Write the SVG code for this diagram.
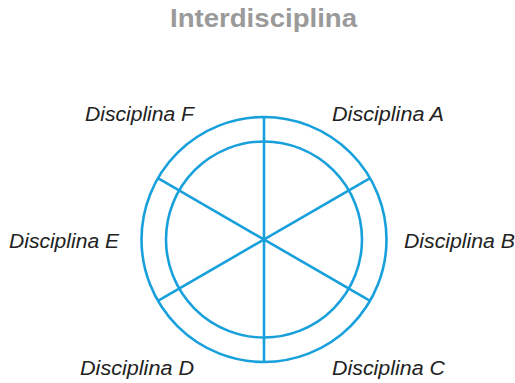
<svg xmlns="http://www.w3.org/2000/svg" width="515" height="383" viewBox="0 0 515 383">
<style>
.c{fill:none;stroke:#17a0dc;stroke-width:2.6}
.l{font-family:"Liberation Sans",Arial,sans-serif;font-style:italic;font-size:20px;fill:#222}
.t{font-family:"Liberation Sans",Arial,sans-serif;font-weight:bold;font-size:25px;fill:#9a9a9a}
</style>
<rect width="515" height="383" fill="#fff"/>
<text class="t" x="170" y="27" textLength="187" lengthAdjust="spacingAndGlyphs">Interdisciplina</text>
<g id="wheel">
<circle class="c" cx="264" cy="239.5" r="122.5"/>
<circle class="c" cx="264" cy="239.5" r="98"/>
</g>
<g id="connectors">
<line class="c" x1="264" y1="117" x2="264" y2="362"/>
<line class="c" x1="157.9" y1="178.2" x2="370.1" y2="300.8"/>
<line class="c" x1="157.9" y1="300.8" x2="370.1" y2="178.2"/>
</g>
<g id="A"><text class="l" x="332" y="121" textLength="112" lengthAdjust="spacingAndGlyphs">Disciplina A</text></g>
<g id="B"><text class="l" x="404" y="248" textLength="111" lengthAdjust="spacingAndGlyphs">Disciplina B</text></g>
<g id="C"><text class="l" x="332" y="375" textLength="113" lengthAdjust="spacingAndGlyphs">Disciplina C</text></g>
<g id="D"><text class="l" x="80" y="375" textLength="114" lengthAdjust="spacingAndGlyphs">Disciplina D</text></g>
<g id="E"><text class="l" x="9" y="248" textLength="110" lengthAdjust="spacingAndGlyphs">Disciplina E</text></g>
<g id="F"><text class="l" x="85" y="121" textLength="109" lengthAdjust="spacingAndGlyphs">Disciplina F</text></g>
</svg>
